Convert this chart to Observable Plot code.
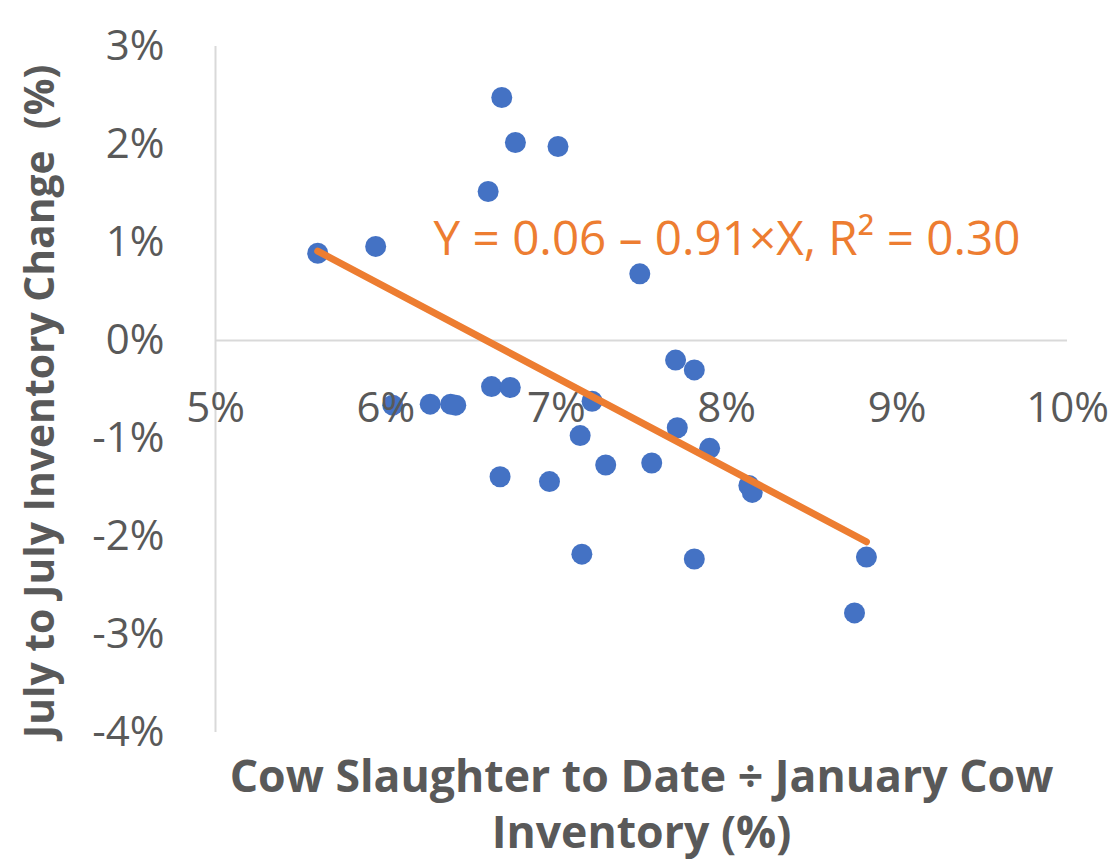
<!DOCTYPE html>
<html><head><meta charset="utf-8">
<script src="https://cdn.jsdelivr.net/npm/d3@7"></script>
<script src="https://cdn.jsdelivr.net/npm/@observablehq/plot@0.6"></script>
<style>html,body{margin:0;padding:0;background:#fff}</style>
</head><body><div id="chart"></div>
<script>
// Cow slaughter to date ÷ January cow inventory (%)
const xPct = [5.60, 5.94, 6.04, 6.26, 6.38, 6.41, 6.60, 6.62, 6.73, 6.67, 6.68, 6.76, 7.01, 6.96, 7.14,
              7.15, 7.21, 7.29, 7.49, 7.56, 7.70, 7.71, 7.81, 7.81, 7.90, 8.13, 8.15, 8.75, 8.82];
// July to July inventory change (%)
const yPct = [0.89, 0.96, -0.66, -0.65, -0.65, -0.66, 1.52, -0.47, -0.48, -1.39, 2.48, 2.02, 1.98, -1.44, -0.97,
              -2.18, -0.62, -1.27, 0.68, -1.25, -0.20, -0.89, -0.30, -2.23, -1.10, -1.48, -1.55, -2.78, -2.21];
const xTicks = [5, 6, 7, 8, 9, 10];
const yTicks = [3, 2, 1, 0, -1, -2, -3, -4];
const equationLabel = "Y = 0.06 – 0.91×X, R² = 0.30";
const equationAnchor = [{x: 6.28, y: 1.03}];
const xTitle = "Cow Slaughter to Date ÷ January Cow\nInventory (%)";
const yTitle = "July to July Inventory Change  (%)";

const points = xPct.map((x, i) => ({x, y: yPct[i]}));
const fmt = d => `${d}%`;
const gray = "#595959";

const chart = Plot.plot({
  width: 1120, height: 861,
  marginLeft: 215, marginRight: 53, marginTop: 46, marginBottom: 129,
  style: {fontFamily: "'Open Sans', sans-serif", color: gray, background: "#fff"},
  x: {domain: [5, 10], axis: null},
  y: {domain: [-4, 3], axis: null},
  marks: [
    Plot.ruleX([5], {stroke: "#d9d9d9", strokeWidth: 2}),
    Plot.ruleY([0], {stroke: "#d9d9d9", strokeWidth: 2}),
    Plot.axisY(yTicks, {tickSize: 0, tickPadding: 51, tickFormat: fmt, fontSize: 42, fill: gray, label: null}),
    Plot.dot(points, {x: "x", y: "y", r: 10.5, fill: "#4472C4"}),
    Plot.text(xTicks, {x: d => d, y: 0, text: fmt, dy: 68, fontSize: 42, fill: gray}),
    Plot.linearRegressionY(points, {x: "x", y: "y", stroke: "#ED7D31", strokeWidth: 7, ci: 0}),
    Plot.text(equationAnchor, {x: "x", y: "y", text: () => equationLabel, textAnchor: "start", fontSize: 47.6, fill: "#ED7D31"}),
    Plot.text([xTitle], {frameAnchor: "bottom", lineAnchor: "top", dy: 20, lineHeight: 1.25, fontSize: 44.6, fontWeight: "bold", fill: gray}),
    Plot.text([yTitle], {frameAnchor: "left", textAnchor: "middle", rotate: -90, dx: -175, dy: 12, fontSize: 40.8, fontWeight: "bold", fill: gray})
  ]
});
document.getElementById("chart").appendChild(chart);
</script>
</body></html>
